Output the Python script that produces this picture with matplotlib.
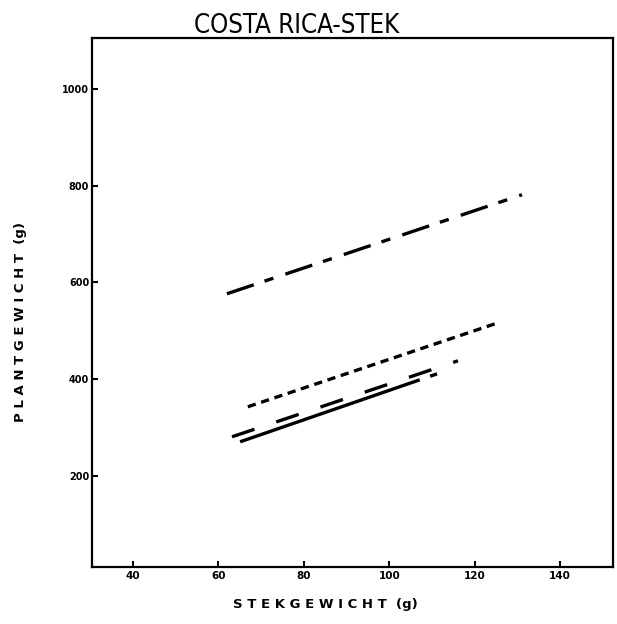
import matplotlib
matplotlib.use('Agg')
import matplotlib.pyplot as plt

# line endpoints (stekgewicht g, plantgewicht g)
x_dashdot = [62.0, 131.1]
y_dashdot = [576.4, 781.0]
x_short = [66.9, 125.5]
y_short = [343.0, 516.5]
x_long = [63.2, 116.1]
y_long = [281.0, 438.0]
x_solid = [65.1, 111.2]
y_solid = [270.7, 411.0]

xticks = [40, 60, 80, 100, 120, 140]
yticks = [200, 400, 600, 800, 1000]

fig = plt.figure(figsize=(6.17, 6.24), dpi=100)
ax = fig.add_axes([0.149, 0.0913, 0.8445, 0.848])

lw = 2.4
ax.plot(x_dashdot, y_dashdot, color='black', lw=lw, linestyle=(0, (8.5, 3.4, 2.8, 3.8)))
ax.plot(x_short, y_short, color='black', lw=lw, linestyle=(0, (2.5, 1.7)))
ax.plot(x_long, y_long, color='black', lw=lw, linestyle=(0, (7.1, 6.9)))
ax.plot(x_solid, y_solid, color='black', lw=lw, linestyle=(0, (57, 3.3, 3.2, 50)))

ax.set_xlim(30.4, 152.4)
ax.set_ylim(12, 1105)
ax.set_xticks(xticks)
ax.set_yticks(yticks)
ax.set_xticklabels([str(t) for t in xticks], fontsize=7.5, fontweight='heavy')
ax.set_yticklabels([str(t) for t in yticks], fontsize=7, fontweight='heavy')
ax.tick_params(direction='in', length=4, width=1.5, pad=2)
ax.tick_params(axis='x', pad=3)
for s in ax.spines.values():
    s.set_linewidth(1.6)

fig.text(0.527, 0.031, 'S T E K G E W I C H T  (g)', fontsize=9.5, fontweight='heavy',
         ha='center', va='center')
fig.text(0.033, 0.484, 'P L A N T G E W I C H T  (g)', fontsize=9.5, fontweight='heavy',
         ha='center', va='center', rotation=90)
title = fig.text(0.481, 0.959, 'COSTA RICA-STEK', fontsize=18.5,
                 family=['DejaVu Sans'], fontstretch='condensed', ha='center', va='center')

fig.savefig('out.png', dpi=100)
